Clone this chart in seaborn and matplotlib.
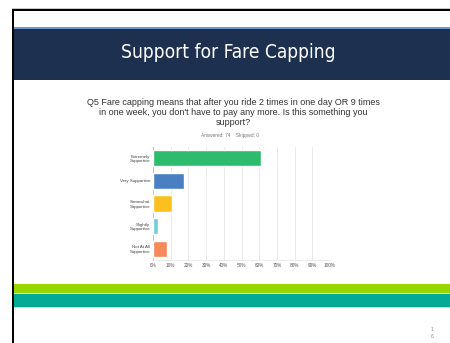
import matplotlib
matplotlib.use("Agg")
import matplotlib.pyplot as plt
import seaborn as sns
import pandas as pd
from matplotlib.patches import Rectangle

categories = ["Extremely\nSupportive", "Very Supportive", "Somewhat\nSupportive",
              "Slightly\nSupportive", "Not At All\nSupportive"]
percent = [60.81, 17.57, 10.81, 2.70, 8.11]
bar_colors = ["#2dbb6e", "#4a7fc1", "#fcc01e", "#6ccfd6", "#f58b5a"]
tick_values = [0, 10, 20, 30, 40, 50, 60, 70, 80, 90, 100]
tick_labels = ["0%", "10%", "20%", "30%", "40%", "50%", "60%", "70%", "80%", "90%", "100%"]

title = "Support for Fare Capping"
question = ("Q5 Fare capping means that after you ride 2 times in one day OR 9 times\n"
            "in one week, you don't have to pay any more. Is this something you\n"
            "support?")
answered = "Answered: 74    Skipped: 0"

sns.set_theme(style="white")
plt.rcParams['font.family'] = ['Liberation Sans', 'DejaVu Sans']

W, H = 450, 343
fig = plt.figure(figsize=(W / 100, H / 100), dpi=100)
fig.patch.set_facecolor("white")

def rect(x0, y0, x1, y1, color, z=0):
    fig.patches.append(Rectangle((x0 / W, 1 - y1 / H), (x1 - x0) / W, (y1 - y0) / H,
                                 transform=fig.transFigure, facecolor=color,
                                 edgecolor="none", zorder=z))

# slide frame
rect(12, 8, W, 9, "#c8c8c8")
rect(12, 9, W, 11, "#000000")
rect(12, 9, 14, H, "#000000")
# header band
rect(14, 27.5, W, 29, "#6a9ac9")
rect(14, 29, W, 80, "#1e3050")
fig.text(228 / W, 1 - 52 / H, title, color="white", fontsize=13.8,
         family=["DejaVu Sans"], fontstretch="condensed", ha="center", va="center")

# question text
fig.text(233 / W, 1 - 112.5 / H, question, color="#333333", fontsize=6.5,
         ha="center", va="center", linespacing=1.2)
fig.text(230 / W, 1 - 135 / H, answered, color="#777777", fontsize=3.4,
         ha="center", va="center")

# bottom stripes
rect(14, 284, W, 293, "#99d600")
rect(14, 293, W, 294, "#e8f5e0")
rect(14, 294, W, 307, "#00aa96")
rect(14, 307, W, 308, "#bff0ea")
fig.text(432 / W, 1 - 333 / H, "1\n6", color="#888888", fontsize=3.5,
         ha="center", va="center", linespacing=1.6)

# chart
ax = fig.add_axes([153 / W, 1 - 260 / H, 177 / W, 113 / H])
df = pd.DataFrame({"category": categories, "percent": percent})
sns.barplot(data=df, x="percent", y="category", hue="category", palette=bar_colors,
            legend=False, width=0.72, saturation=1, ax=ax, zorder=3)
ax.set_xlim(0, 100)
ax.set_xticks(tick_values)
ax.set_xticklabels(tick_labels, fontsize=3.4, color="#555555")
ax.tick_params(axis="y", labelsize=3.2, labelcolor="#444444", length=0, pad=2)
ax.tick_params(axis="x", length=0, pad=2)
ax.set_xlabel("")
ax.set_ylabel("")
ax.grid(axis="x", color="#e6e6e6", linewidth=0.6, zorder=0)
ax.set_axisbelow(True)
for s in ["top", "right"]:
    ax.spines[s].set_visible(False)
ax.spines["left"].set_color("#bbbbbb")
ax.spines["left"].set_linewidth(0.6)
ax.spines["bottom"].set_color("#e6e6e6")
ax.spines["bottom"].set_linewidth(0.6)
ax.set_facecolor("none")

fig.savefig("out.png", dpi=100, facecolor="white")
